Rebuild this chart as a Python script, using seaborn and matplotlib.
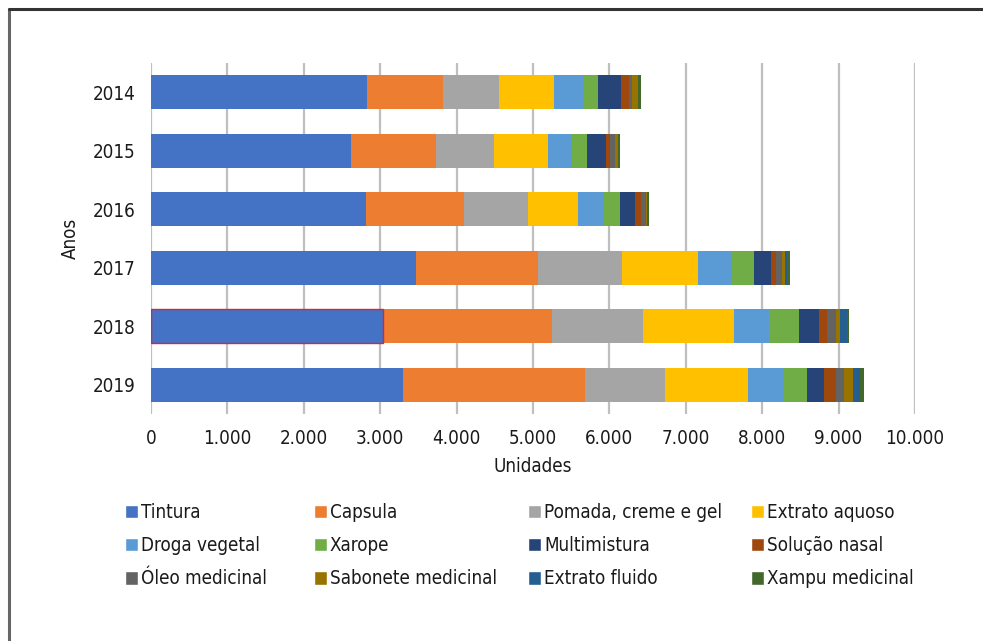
import matplotlib
matplotlib.use("Agg")
import matplotlib.pyplot as plt
import seaborn as sns
import pandas as pd
import numpy as np
from matplotlib.patches import Rectangle
from matplotlib.lines import Line2D

years = ["2014", "2015", "2016", "2017", "2018", "2019"]
series_names = ["Tintura", "Capsula", "Pomada, creme e gel", "Extrato aquoso",
                "Droga vegetal", "Xarope", "Multimistura", "Solução nasal",
                "Óleo medicinal", "Sabonete medicinal", "Extrato fluido", "Xampu medicinal"]
tintura = [2827, 2618, 2814, 3469, 3037, 3298]
capsula = [995, 1112, 1283, 1596, 2212, 2383]
pomada = [733, 760, 838, 1100, 1191, 1047]
extrato_aquoso = [720, 706, 654, 995, 1191, 1086]
droga_vegetal = [393, 301, 327, 436, 462, 471]
xarope = [183, 210, 223, 297, 389, 301]
multimistura = [301, 248, 196, 222, 261, 223]
solucao_nasal = [105, 53, 79, 66, 105, 157]
oleo_medicinal = [35, 65, 65, 78, 118, 105]
sabonete_medicinal = [78, 40, 13, 39, 52, 117]
extrato_fluido = [8, 6, 5, 31, 96, 92]
xampu_medicinal = [30, 26, 26, 35, 22, 52]
xticks = [0, 1000, 2000, 3000, 4000, 5000, 6000, 7000, 8000, 9000, 10000]
xtick_labels = ["0", "1.000", "2.000", "3.000", "4.000", "5.000", "6.000",
                "7.000", "8.000", "9.000", "10.000"]
colors = ["#4472C4", "#ED7D31", "#A5A5A5", "#FFC000", "#5B9BD5", "#70AD47",
          "#264478", "#9E480E", "#636363", "#997300", "#255E91", "#43682B"]

values = [tintura, capsula, pomada, extrato_aquoso, droga_vegetal, xarope,
          multimistura, solucao_nasal, oleo_medicinal, sabonete_medicinal,
          extrato_fluido, xampu_medicinal]

sns.set_theme(style="white")
plt.rcParams['font.family'] = ['DejaVu Sans']
plt.rcParams['font.stretch'] = 'condensed'

FS = 13.5
TXT = "#1a1a1a"

fig = plt.figure(figsize=(9.83, 6.41), dpi=100)
ax = fig.add_axes([151/983, 1 - 414/641, (915-151)/983, (414-63)/641])

df = pd.DataFrame({name: v for name, v in zip(series_names, values)})
df["Ano"] = years
cum = df[series_names].cumsum(axis=1)

# draw cumulative totals from last to first so each segment shows
for i in range(len(series_names) - 1, -1, -1):
    name = series_names[i]
    d = pd.DataFrame({"Ano": years, "val": cum[name].values})
    sns.barplot(data=d, x="val", y="Ano", color=colors[i], orient="h",
                width=0.58, ax=ax, label=name, saturation=1, linewidth=0,
                order=years)

if ax.get_legend() is not None:
    ax.get_legend().remove()

ax.set_xlim(0, 10000)
ax.set_ylim(5.5, -0.5)
ax.set_xticks(xticks)
ax.set_xticklabels(xtick_labels)
ax.grid(axis="x", color="#BFBFBF", linewidth=1.6, zorder=0)
ax.set_axisbelow(True)
for s in ax.spines.values():
    s.set_visible(False)
ax.tick_params(axis="both", length=0, labelsize=FS, colors=TXT)
ax.tick_params(axis="y", pad=11)
ax.tick_params(axis="x", pad=11)
ax.set_xlabel("Unidades", fontsize=FS, color=TXT, labelpad=6)
ax.set_ylabel("Anos", fontsize=FS, color=TXT, labelpad=9)

# red selection outline on 2018 Tintura segment
tint_container = ax.containers[-1]
tint_container.patches[4].set_edgecolor("#E0203A")
tint_container.patches[4].set_linewidth(1.0)

# legends: 4 columns
col_x = [125/983, 314/983, 528/983, 751/983]
for c in range(4):
    names = [series_names[c + 4 * r] for r in range(3)]
    hs = [Rectangle((0, 0), 1, 1, facecolor=colors[series_names.index(n)]) for n in names]
    leg = fig.legend(hs, names, loc="upper left", bbox_to_anchor=(col_x[c], 1 - 503/641),
                     frameon=False, fontsize=FS, handlelength=0.7, handleheight=0.7,
                     handletextpad=0.15, labelspacing=0.76, borderaxespad=0, borderpad=0)
    for t in leg.get_texts():
        t.set_color(TXT)

# figure frame (top and left)
fig.add_artist(Line2D([8.5/983, 8.5/983], [0, 1 - 9/641], color="#666666", linewidth=2.2,
                      transform=fig.transFigure))
fig.add_artist(Line2D([8.5/983, 1], [1 - 9/641, 1 - 9/641], color="#333333", linewidth=2.2,
                      transform=fig.transFigure))

fig.savefig("out.png", dpi=100)
